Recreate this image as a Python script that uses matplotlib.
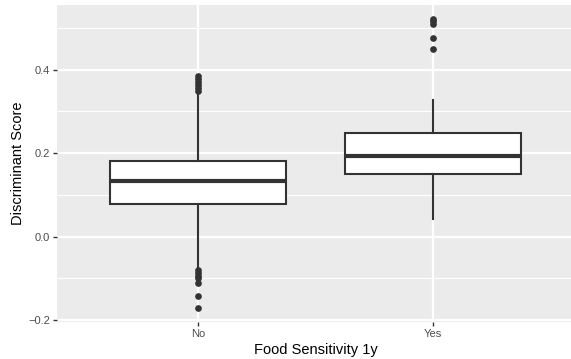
import numpy as np
import matplotlib
matplotlib.use("Agg")
import matplotlib.pyplot as plt
from matplotlib.ticker import MultipleLocator

plt.rcParams['font.family'] = ['Liberation Sans', 'DejaVu Sans']

# Box summaries
groups = ["No", "Yes"]
q1 = [0.077, 0.151]
med = [0.134, 0.194]
q3 = [0.182, 0.249]
whislo = [-0.074, 0.041]
whishi = [0.342, 0.328]
outliers = [
    [0.348, 0.355, 0.362, 0.370, 0.378, 0.384,
     -0.081, -0.088, -0.094, -0.100, -0.110, -0.143, -0.170],
    [0.448, 0.475, 0.508, 0.515, 0.520],
]

stats = []
for i, g in enumerate(groups):
    stats.append(dict(label=g, q1=q1[i], med=med[i], q3=q3[i],
                      whislo=whislo[i], whishi=whishi[i], fliers=outliers[i]))

fig = plt.figure(figsize=(5.71, 3.59), dpi=100)
# panel runs slightly past the right edge of the image, as in the reference
ax = fig.add_axes([57 / 571, 37 / 359, 517 / 571, 317 / 359])
ax.set_facecolor('#EBEBEB')

dark = '#333333'
ax.bxp(stats, positions=[1, 2], widths=0.75, patch_artist=True, showcaps=False,
       boxprops=dict(facecolor='white', edgecolor=dark, linewidth=1.5),
       medianprops=dict(color=dark, linewidth=3),
       whiskerprops=dict(color=dark, linewidth=1.5),
       flierprops=dict(marker='o', markerfacecolor=dark, markeredgecolor=dark,
                       markersize=3.8, linestyle='none'),
       zorder=3)

# ggplot style limits with 5% expansion
all_vals = np.concatenate([whislo, whishi] + [np.array(o) for o in outliers])
lo, hi = all_vals.min(), all_vals.max()
pad = 0.05 * (hi - lo)
ax.set_ylim(lo - pad, hi + pad)
ax.set_xlim(0.4, 2.6)

ax.yaxis.set_minor_locator(MultipleLocator(0.1))
ax.set_yticks([-0.2, 0.0, 0.2, 0.4])
ax.set_yticklabels(['\u22120.2', '0.0', '0.2', '0.4'])
ax.set_xticks([1, 2])
ax.set_xticklabels(groups)

ax.grid(True, which='major', color='white', linewidth=1.6, zorder=0)
ax.grid(True, which='minor', axis='y', color='white', linewidth=0.8, zorder=0)
ax.set_axisbelow(True)
for s in ax.spines.values():
    s.set_visible(False)
ax.tick_params(which='major', length=3, width=1, color='#333333',
               labelsize=8, labelcolor='#4D4D4D', pad=2)
ax.tick_params(which='minor', length=0)

ax.set_xlabel('Food Sensitivity 1y', fontsize=10.5, color='black', labelpad=3)
ax.set_ylabel('Discriminant Score', fontsize=10.5, color='black', labelpad=2)

fig.savefig('out.png', dpi=100)
